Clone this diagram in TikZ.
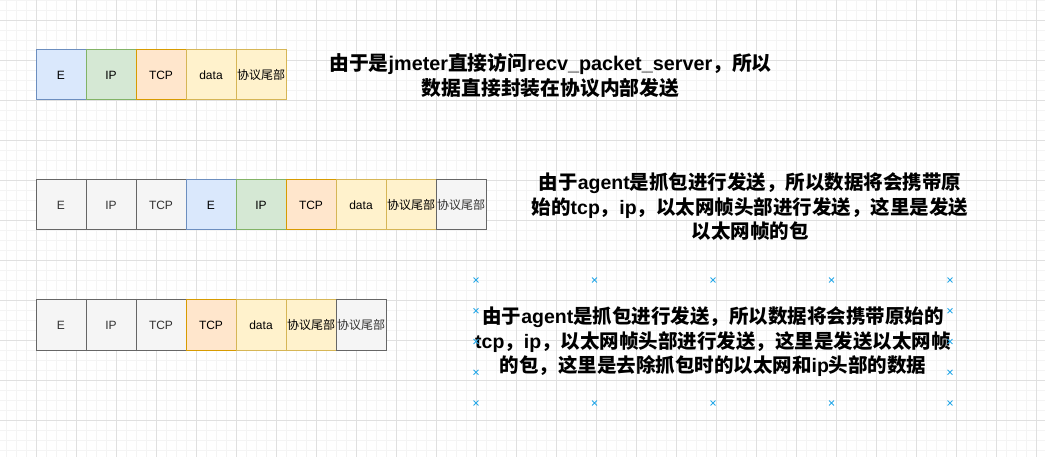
\documentclass[tikz,border=0pt]{standalone}
\usepackage{fontspec}
\setmainfont{Liberation Sans}
\newfontfamily\cjk{Noto Sans CJK SC}
\newcommand{\C}[1]{{\cjk #1}}
\usetikzlibrary{shapes.misc}
\definecolor{bluef}{HTML}{DAE8FC}\definecolor{blued}{HTML}{6C8EBF}
\definecolor{greenf}{HTML}{D5E8D4}\definecolor{greend}{HTML}{82B366}
\definecolor{orangef}{HTML}{FFE6CC}\definecolor{oranged}{HTML}{D79B00}
\definecolor{yellowf}{HTML}{FFF2CC}\definecolor{yellowd}{HTML}{D6B656}
\definecolor{greyf}{HTML}{F5F5F5}\definecolor{greyd}{HTML}{666666}
\definecolor{greyt}{HTML}{333333}
\definecolor{gridminor}{HTML}{F4F4F4}\definecolor{gridmajor}{HTML}{E0E0E0}
\definecolor{handle}{HTML}{29A9E8}
\tikzset{
  box/.style={draw, line width=1pt, minimum width=50pt, minimum height=50pt, inner sep=0pt, outer sep=0pt, anchor=west, font=\fontsize{12}{14}\selectfont},
  bbox/.style={box, fill=bluef, draw=blued},
  gbox/.style={box, fill=greenf, draw=greend},
  obox/.style={box, fill=orangef, draw=oranged},
  ybox/.style={box, fill=yellowf, draw=yellowd},
  kbox/.style={box, fill=greyf, draw=greyd, text=greyt},
  note/.style={align=center, inner sep=0pt, font=\bfseries\fontsize{19.5}{24.5}\selectfont},
  hdl/.style={cross out, draw=handle, line width=0.9pt, minimum size=4pt, inner sep=0pt},
}
\begin{document}
\begin{tikzpicture}[x=1pt,y=-1pt]
\useasboundingbox (0,0) rectangle (1045,457);
\fill[white] (0,0) rectangle (1045,457);
\foreach \x in {6,16,...,1045} \draw[gridminor, line width=0.6pt] (\x,0) -- (\x,457);
\foreach \y in {0,10,...,457} \draw[gridminor, line width=0.6pt] (0,\y) -- (1045,\y);
\foreach \x in {36,76,...,1045} \draw[gridmajor, line width=0.8pt] (\x,0) -- (\x,457);
\foreach \y in {20,60,...,457} \draw[gridmajor, line width=0.8pt] (0,\y) -- (1045,\y);

% row 1
\node[bbox] (a1) at (36,75) {E};
\node[gbox] (a2) at (a1.east) {IP};
\node[obox] (a3) at (a2.east) {TCP};
\node[ybox] (a4) at (a3.east) {data};
\node[ybox] (a5) at (a4.east) {\C{协议尾部}};

% row 2
\node[kbox] (b1) at (36,205) {E};
\node[kbox] (b2) at (b1.east) {IP};
\node[kbox] (b3) at (b2.east) {TCP};
\node[bbox] (b4) at (b3.east) {E};
\node[gbox] (b5) at (b4.east) {IP};
\node[obox] (b6) at (b5.east) {TCP};
\node[ybox] (b7) at (b6.east) {data};
\node[ybox] (b8) at (b7.east) {\C{协议尾部}};
\node[kbox] (b9) at (b8.east) {\C{协议尾部}};

% row 3
\node[kbox] (c1) at (36,325) {E};
\node[kbox] (c2) at (c1.east) {IP};
\node[kbox] (c3) at (c2.east) {TCP};
\node[obox] (c4) at (c3.east) {TCP};
\node[ybox] (c5) at (c4.east) {data};
\node[ybox] (c6) at (c5.east) {\C{协议尾部}};
\node[kbox] (c7) at (c6.east) {\C{协议尾部}};

% notes
\node[note, font=\bfseries\fontsize{19.8}{24.5}\selectfont] (t1) at (550.5,75.5) {\C{由于是}jmeter\C{直接访问}recv\_packet\_server\C{，所以}\\\C{数据直接封装在协议内部发送}};
\node[note] (t2) at (750,207) {\C{由于}agent\C{是抓包进行发送，所以数据将会携带原}\\\C{始的}tcp\C{，}ip\C{，以太网帧头部进行发送，这里是发送}\\\C{以太网帧的包}};
\node[note] (t3) at (713,342) {\C{由于}agent\C{是抓包进行发送，所以数据将会携带原始的}\\tcp\C{，}ip\C{，以太网帧头部进行发送，这里是发送以太网帧}\\\C{的包，这里是去除抓包时的以太网和}ip\C{头部的数据}};

% selection handles
\foreach \i/\x in {1/476,2/594.5,3/713,4/831.5,5/950} {
  \node[hdl] (ht\i) at (\x,280) {};
  \node[hdl] (hb\i) at (\x,403) {};
}
\foreach \j/\y in {1/310.75,2/341.5,3/372.25} {
  \node[hdl] (hl\j) at (476,\y) {};
  \node[hdl] (hr\j) at (950,\y) {};
}
\end{tikzpicture}
\end{document}
